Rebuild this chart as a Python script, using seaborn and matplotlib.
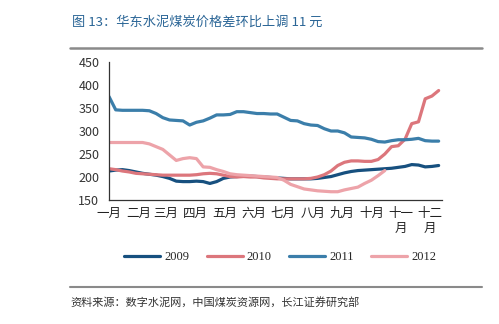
import numpy as np
import pandas as pd
import matplotlib
matplotlib.use("Agg")
import matplotlib.pyplot as plt
import seaborn as sns
from matplotlib.lines import Line2D

# ---- data (weekly, x = week of year) ----
weeks_2009 = list(range(50))
v2009 = [213, 215, 216, 214, 211, 208, 206, 204, 201, 197,
         191, 190, 190, 191, 190, 186, 190, 197, 200, 201,
         202, 202, 201, 200, 199, 198, 197, 196, 196, 196,
         196, 197, 199, 201, 205, 209, 212, 214, 215, 216,
         217, 218, 219, 221, 223, 227, 226, 222, 223, 225]
v2010 = [218, 216, 213, 211, 208, 207, 206, 205, 204, 204,
         204, 204, 204, 205, 207, 208, 207, 204, 201, 200,
         201, 200, 200, 198, 197, 196, 196, 196, 196, 196,
         197, 200, 205, 213, 225, 232, 235, 235, 234, 234,
         238, 250, 266, 268, 282, 316, 320, 370, 376, 388]
v2011 = [375, 346, 345, 345, 345, 345, 344, 338, 329, 324,
         323, 322, 313, 319, 322, 328, 335, 335, 336, 342,
         342, 340, 338, 338, 337, 337, 330, 323, 322, 316,
         313, 312, 305, 300, 300, 296, 287, 286, 285, 282,
         277, 276, 279, 281, 281, 282, 284, 279, 278, 278]
weeks_2012 = list(range(42))
v2012 = [275, 275, 275, 275, 275, 275, 272, 266, 260, 248,
         236, 240, 242, 240, 222, 221, 216, 212, 207, 205,
         204, 203, 202, 201, 200, 199, 193, 184, 179, 174,
         172, 170, 169, 168, 168, 172, 175, 178, 186, 193,
         203, 214]

years = ["2009", "2010", "2011", "2012"]
colors = ["#17507f", "#dc767c", "#3b7eaa", "#eda3a9"]

month_pos = [0, 31 / 7, 59 / 7, 90 / 7, 120 / 7, 151 / 7, 181 / 7,
             212 / 7, 243 / 7, 273 / 7, 304 / 7, 334 / 7]
month_labels = ["一月", "二月", "三月", "四月", "五月", "六月", "七月",
                "八月", "九月", "十月", "十一\n月", "十二\n月"]
y_ticks = [150, 200, 250, 300, 350, 400, 450]

title_text = "图 13：华东水泥煤炭价格差环比上调 11 元"
source_text = "资料来源：数字水泥网，中国煤炭资源网，长江证券研究部"

frames = []
for yr, wk, vals in [("2009", weeks_2009, v2009), ("2010", weeks_2009, v2010),
                     ("2011", weeks_2009, v2011), ("2012", weeks_2012, v2012)]:
    frames.append(pd.DataFrame({"week": wk, "value": vals, "year": yr}))
df = pd.concat(frames, ignore_index=True)

sns.set_theme(style="white")
plt.rcParams["font.family"] = ["Noto Sans CJK SC", "DejaVu Sans"]

fig = plt.figure(figsize=(4.99, 3.24), dpi=100)
ax = fig.add_axes([0.2184, 0.3827, 0.8858 - 0.2184, 0.8086 - 0.3827])

sns.lineplot(data=df, x="week", y="value", hue="year", hue_order=years,
             palette=colors, linewidth=2.3, ax=ax, legend=False,
             estimator=None, sort=False)

ax.set_xlim(0, 49.5)
ax.set_ylim(150, 450)
ax.set_yticks(y_ticks)
ax.set_yticklabels([str(t) for t in y_ticks], fontsize=9, color="#333333")
ax.set_xticks(month_pos)
ax.set_xticklabels(month_labels, fontsize=9, color="#222222", linespacing=1.2,
                   va="top")
ax.set_xlabel("")
ax.set_ylabel("")
for s in ["top", "right"]:
    ax.spines[s].set_visible(False)
for s in ["left", "bottom"]:
    ax.spines[s].set_color("#333333")
    ax.spines[s].set_linewidth(0.9)
ax.tick_params(axis="x", direction="in", length=3, width=0.9, color="#333333", pad=5)
ax.tick_params(axis="y", direction="out", length=3, width=0.9, color="#333333", pad=4)
ax.grid(False)

# title and rules
fig.text(72 / 499, 1 - 22 / 324, title_text, fontsize=9.5, color="#2a6596",
         ha="left", va="center")
fig.add_artist(Line2D([70 / 499, 482 / 499], [1 - 48 / 324, 1 - 48 / 324],
                      color="#8a8a8a", linewidth=1.8))
fig.add_artist(Line2D([70 / 499, 482 / 499], [1 - 287 / 324, 1 - 287 / 324],
                      color="#8a8a8a", linewidth=1.5))
fig.text(70 / 499, 1 - 302 / 324, source_text, fontsize=8, color="#333333",
         ha="left", va="center")

handles = [Line2D([0], [0], color=c, linewidth=2.3) for c in colors]
fig.legend(handles, years, loc="center", bbox_to_anchor=(280 / 499, 1 - 257 / 324),
           ncol=4, frameon=False, fontsize=8.5, handlelength=2.9,
           handletextpad=0.3, columnspacing=1.4,
           prop={"family": "Liberation Serif", "size": 9})

fig.savefig("out.png", dpi=100, facecolor="white")
